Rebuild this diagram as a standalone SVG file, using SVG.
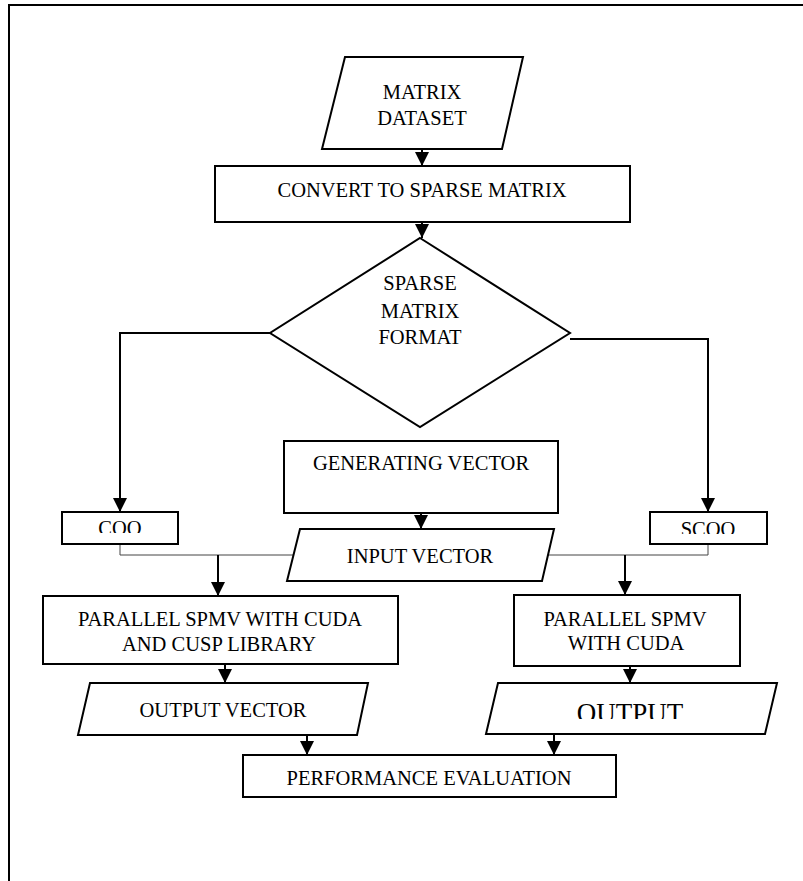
<svg xmlns="http://www.w3.org/2000/svg" width="803" height="881" viewBox="0 0 803 881">
<style>
.s{fill:#fff;stroke:#000;stroke-width:2}
.t{font-family:"Liberation Serif","Times New Roman",serif;font-size:20.5px;fill:#000;text-anchor:middle}
.c{fill:none;stroke:#000;stroke-width:2}
.thin{fill:none;stroke:#444;stroke-width:1}
</style>
<defs>
<marker id="ah" viewBox="0 0 10 10" refX="10" refY="5" markerWidth="14" markerHeight="14" markerUnits="userSpaceOnUse" orient="auto">
<path d="M0,0 L10,5 L0,10 z" fill="#000"/>
</marker>
<clipPath id="clipCoo"><rect x="60" y="510" width="120" height="23"/></clipPath>
<clipPath id="clipScoo"><rect x="648" y="510" width="120" height="24"/></clipPath>
<clipPath id="clipOut"><rect x="490" y="690" width="280" height="29"/></clipPath>
</defs>
<g id="frame">
<line x1="8" y1="5" x2="803" y2="5" stroke="#000" stroke-width="2"/>
<line x1="9" y1="5" x2="9" y2="881" stroke="#000" stroke-width="2"/>
</g>
<g id="connectors">
<path class="c" d="M422,149 V166" marker-end="url(#ah)"/>
<path class="c" d="M422,222 V238" marker-end="url(#ah)"/>
<path class="c" d="M270,333 H120 V512" marker-end="url(#ah)"/>
<path class="c" d="M570,339 H708 V512" marker-end="url(#ah)"/>
<path class="c" d="M421,513 V529" marker-end="url(#ah)"/>
<path class="thin" d="M120,544 V555 H293"/>
<path class="thin" d="M708,544 V555 H548"/>
<path class="c" d="M218,555 V596" marker-end="url(#ah)"/>
<path class="c" d="M625,555 V595" marker-end="url(#ah)"/>
<path class="c" d="M225,664 V683" marker-end="url(#ah)"/>
<path class="c" d="M630,666 V683" marker-end="url(#ah)"/>
<path class="c" d="M307,735 V755" marker-end="url(#ah)"/>
<path class="c" d="M554,734 V755" marker-end="url(#ah)"/>
</g>
<g id="matrix-dataset">
<polygon class="s" points="345,57 523,57 502,149 322,149"/>
<text class="t" x="422" y="99">MATRIX</text>
<text class="t" x="422" y="125">DATASET</text>
</g>
<g id="convert">
<rect class="s" x="215" y="166" width="415" height="56"/>
<text class="t" x="422" y="197">CONVERT TO SPARSE MATRIX</text>
</g>
<g id="format">
<polygon class="s" points="420,238 570,333 420,427 270,333"/>
<text class="t" x="420" y="290">SPARSE</text>
<text class="t" x="420" y="318">MATRIX</text>
<text class="t" x="420" y="344">FORMAT</text>
</g>
<g id="generating">
<rect class="s" x="284" y="441" width="274" height="72"/>
<text class="t" x="421" y="470">GENERATING VECTOR</text>
</g>
<g id="coo">
<rect class="s" x="62" y="512" width="116" height="32"/>
<text class="t" x="120" y="535" clip-path="url(#clipCoo)">COO</text>
</g>
<g id="scoo">
<rect class="s" x="650" y="512" width="117" height="32"/>
<text class="t" x="708" y="536" clip-path="url(#clipScoo)">SCOO</text>
</g>
<g id="input-vector">
<polygon class="s" points="300,529 554,529 542,581 287,581"/>
<text class="t" x="420" y="563">INPUT VECTOR</text>
</g>
<g id="spmv-cusp">
<rect class="s" x="43" y="596" width="355" height="68"/>
<text class="t" x="220" y="626">PARALLEL SPMV WITH CUDA</text>
<text class="t" x="219" y="651">AND CUSP LIBRARY</text>
</g>
<g id="spmv-cuda">
<rect class="s" x="514" y="595" width="226" height="71"/>
<text class="t" x="625" y="626">PARALLEL SPMV</text>
<text class="t" x="626" y="650">WITH CUDA</text>
</g>
<g id="output-vector">
<polygon class="s" points="90,683 368,683 357,735 78,735"/>
<text class="t" x="223" y="717">OUTPUT VECTOR</text>
</g>
<g id="output">
<polygon class="s" points="498,683 777,683 765,734 486,734"/>
<text class="t" x="630" y="722" style="font-size:27px" clip-path="url(#clipOut)">OUTPUT</text>
</g>
<g id="performance">
<rect class="s" x="243" y="755" width="373" height="42"/>
<text class="t" x="429" y="785">PERFORMANCE EVALUATION</text>
</g>
</svg>
